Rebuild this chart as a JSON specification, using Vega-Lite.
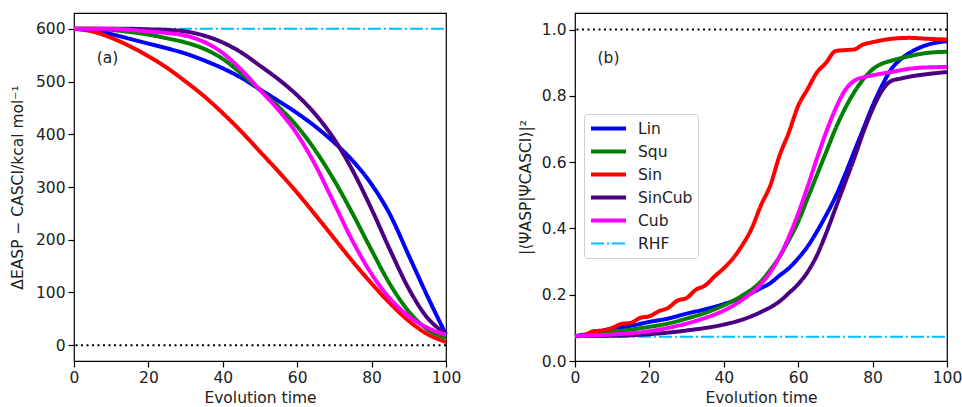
{
  "$schema": "https://vega.github.io/schema/vega-lite/v6.json",
  "padding": {"left": 9, "top": 12, "right": 0, "bottom": 5},
  "background": "white",
  "config": {
    "font": "DejaVu Sans",
    "view": {"stroke": "#000", "strokeWidth": 1.2},
    "axis": {
      "grid": false, "domain": false, "tickColor": "#000", "tickSize": 6, "tickWidth": 1.2,
      "labelFontSize": 15.5, "labelColor": "#222", "labelPadding": 3, "labelFlush": false,
      "titleFontSize": 15.5, "titleFontWeight": "normal", "titleColor": "#222"
    }
  },
  "datasets": {
    "energy": [
      {"s": "RHF", "t": 0, "v": 600}, {"s": "RHF", "t": 100, "v": 600},
      {"s": "Lin", "t": 0, "v": 600}, {"s": "Lin", "t": 5, "v": 597}, {"s": "Lin", "t": 10, "v": 590}, {"s": "Lin", "t": 15, "v": 581}, {"s": "Lin", "t": 20, "v": 572}, {"s": "Lin", "t": 25, "v": 563}, {"s": "Lin", "t": 30, "v": 553}, {"s": "Lin", "t": 35, "v": 540}, {"s": "Lin", "t": 40, "v": 525}, {"s": "Lin", "t": 45, "v": 507}, {"s": "Lin", "t": 50, "v": 485}, {"s": "Lin", "t": 55, "v": 463}, {"s": "Lin", "t": 60, "v": 440}, {"s": "Lin", "t": 65, "v": 414}, {"s": "Lin", "t": 70, "v": 384}, {"s": "Lin", "t": 75, "v": 349}, {"s": "Lin", "t": 80, "v": 305}, {"s": "Lin", "t": 85, "v": 247}, {"s": "Lin", "t": 90, "v": 170}, {"s": "Lin", "t": 95, "v": 93}, {"s": "Lin", "t": 100, "v": 20},
      {"s": "Squ", "t": 0, "v": 600}, {"s": "Squ", "t": 5, "v": 600}, {"s": "Squ", "t": 10, "v": 598}, {"s": "Squ", "t": 15, "v": 594}, {"s": "Squ", "t": 20, "v": 589}, {"s": "Squ", "t": 25, "v": 582}, {"s": "Squ", "t": 30, "v": 574}, {"s": "Squ", "t": 35, "v": 562}, {"s": "Squ", "t": 40, "v": 543}, {"s": "Squ", "t": 45, "v": 515}, {"s": "Squ", "t": 50, "v": 484}, {"s": "Squ", "t": 55, "v": 452}, {"s": "Squ", "t": 60, "v": 415}, {"s": "Squ", "t": 65, "v": 368}, {"s": "Squ", "t": 70, "v": 312}, {"s": "Squ", "t": 75, "v": 248}, {"s": "Squ", "t": 80, "v": 180}, {"s": "Squ", "t": 85, "v": 115}, {"s": "Squ", "t": 90, "v": 64}, {"s": "Squ", "t": 95, "v": 30}, {"s": "Squ", "t": 100, "v": 14},
      {"s": "Sin", "t": 0, "v": 600}, {"s": "Sin", "t": 5, "v": 595}, {"s": "Sin", "t": 10, "v": 583}, {"s": "Sin", "t": 15, "v": 567}, {"s": "Sin", "t": 20, "v": 548}, {"s": "Sin", "t": 25, "v": 526}, {"s": "Sin", "t": 30, "v": 500}, {"s": "Sin", "t": 35, "v": 472}, {"s": "Sin", "t": 40, "v": 440}, {"s": "Sin", "t": 45, "v": 405}, {"s": "Sin", "t": 50, "v": 367}, {"s": "Sin", "t": 55, "v": 329}, {"s": "Sin", "t": 60, "v": 289}, {"s": "Sin", "t": 65, "v": 246}, {"s": "Sin", "t": 70, "v": 202}, {"s": "Sin", "t": 75, "v": 158}, {"s": "Sin", "t": 80, "v": 117}, {"s": "Sin", "t": 85, "v": 79}, {"s": "Sin", "t": 90, "v": 46}, {"s": "Sin", "t": 95, "v": 21}, {"s": "Sin", "t": 100, "v": 6},
      {"s": "SinCub", "t": 0, "v": 600}, {"s": "SinCub", "t": 5, "v": 600}, {"s": "SinCub", "t": 10, "v": 600}, {"s": "SinCub", "t": 15, "v": 600}, {"s": "SinCub", "t": 20, "v": 599}, {"s": "SinCub", "t": 25, "v": 598}, {"s": "SinCub", "t": 30, "v": 595}, {"s": "SinCub", "t": 35, "v": 587}, {"s": "SinCub", "t": 40, "v": 574}, {"s": "SinCub", "t": 45, "v": 555}, {"s": "SinCub", "t": 50, "v": 530}, {"s": "SinCub", "t": 55, "v": 504}, {"s": "SinCub", "t": 60, "v": 474}, {"s": "SinCub", "t": 65, "v": 437}, {"s": "SinCub", "t": 70, "v": 390}, {"s": "SinCub", "t": 75, "v": 330}, {"s": "SinCub", "t": 80, "v": 258}, {"s": "SinCub", "t": 85, "v": 180}, {"s": "SinCub", "t": 90, "v": 107}, {"s": "SinCub", "t": 95, "v": 52}, {"s": "SinCub", "t": 100, "v": 22},
      {"s": "Cub", "t": 0, "v": 600}, {"s": "Cub", "t": 5, "v": 600}, {"s": "Cub", "t": 10, "v": 600}, {"s": "Cub", "t": 15, "v": 598}, {"s": "Cub", "t": 20, "v": 595}, {"s": "Cub", "t": 25, "v": 592}, {"s": "Cub", "t": 30, "v": 587}, {"s": "Cub", "t": 35, "v": 575}, {"s": "Cub", "t": 40, "v": 554}, {"s": "Cub", "t": 45, "v": 522}, {"s": "Cub", "t": 50, "v": 484}, {"s": "Cub", "t": 55, "v": 446}, {"s": "Cub", "t": 60, "v": 400}, {"s": "Cub", "t": 65, "v": 340}, {"s": "Cub", "t": 70, "v": 268}, {"s": "Cub", "t": 75, "v": 196}, {"s": "Cub", "t": 80, "v": 135}, {"s": "Cub", "t": 85, "v": 88}, {"s": "Cub", "t": 90, "v": 55}, {"s": "Cub", "t": 95, "v": 33}, {"s": "Cub", "t": 100, "v": 20}
    ],
    "overlap": [
      {"s": "RHF", "t": 0, "v": 0.073}, {"s": "RHF", "t": 100, "v": 0.073},
      {"s": "Lin", "t": 0, "v": 0.075}, {"s": "Lin", "t": 5, "v": 0.085}, {"s": "Lin", "t": 10, "v": 0.098}, {"s": "Lin", "t": 15, "v": 0.106}, {"s": "Lin", "t": 20, "v": 0.118}, {"s": "Lin", "t": 25, "v": 0.128}, {"s": "Lin", "t": 30, "v": 0.143}, {"s": "Lin", "t": 35, "v": 0.156}, {"s": "Lin", "t": 40, "v": 0.172}, {"s": "Lin", "t": 45, "v": 0.192}, {"s": "Lin", "t": 50, "v": 0.220}, {"s": "Lin", "t": 52.5, "v": 0.235}, {"s": "Lin", "t": 55, "v": 0.258}, {"s": "Lin", "t": 57.5, "v": 0.280}, {"s": "Lin", "t": 60, "v": 0.310}, {"s": "Lin", "t": 62.5, "v": 0.345}, {"s": "Lin", "t": 65, "v": 0.390}, {"s": "Lin", "t": 67.5, "v": 0.440}, {"s": "Lin", "t": 70, "v": 0.495}, {"s": "Lin", "t": 72.5, "v": 0.560}, {"s": "Lin", "t": 75, "v": 0.630}, {"s": "Lin", "t": 77.5, "v": 0.700}, {"s": "Lin", "t": 80, "v": 0.770}, {"s": "Lin", "t": 82.5, "v": 0.830}, {"s": "Lin", "t": 85, "v": 0.880}, {"s": "Lin", "t": 87.5, "v": 0.910}, {"s": "Lin", "t": 90, "v": 0.930}, {"s": "Lin", "t": 95, "v": 0.955}, {"s": "Lin", "t": 100, "v": 0.965},
      {"s": "Squ", "t": 0, "v": 0.075}, {"s": "Squ", "t": 10, "v": 0.088}, {"s": "Squ", "t": 20, "v": 0.103}, {"s": "Squ", "t": 25, "v": 0.113}, {"s": "Squ", "t": 30, "v": 0.128}, {"s": "Squ", "t": 35, "v": 0.145}, {"s": "Squ", "t": 40, "v": 0.168}, {"s": "Squ", "t": 45, "v": 0.198}, {"s": "Squ", "t": 50, "v": 0.240}, {"s": "Squ", "t": 52.5, "v": 0.275}, {"s": "Squ", "t": 55, "v": 0.315}, {"s": "Squ", "t": 57.5, "v": 0.365}, {"s": "Squ", "t": 60, "v": 0.420}, {"s": "Squ", "t": 62.5, "v": 0.490}, {"s": "Squ", "t": 65, "v": 0.560}, {"s": "Squ", "t": 67.5, "v": 0.630}, {"s": "Squ", "t": 70, "v": 0.700}, {"s": "Squ", "t": 72.5, "v": 0.760}, {"s": "Squ", "t": 75, "v": 0.810}, {"s": "Squ", "t": 77.5, "v": 0.850}, {"s": "Squ", "t": 80, "v": 0.880}, {"s": "Squ", "t": 82.5, "v": 0.897}, {"s": "Squ", "t": 85, "v": 0.906}, {"s": "Squ", "t": 90, "v": 0.920}, {"s": "Squ", "t": 95, "v": 0.930}, {"s": "Squ", "t": 100, "v": 0.933},
      {"s": "Sin", "t": 0, "v": 0.075}, {"s": "Sin", "t": 2.5, "v": 0.078}, {"s": "Sin", "t": 5, "v": 0.090}, {"s": "Sin", "t": 7.5, "v": 0.092}, {"s": "Sin", "t": 10, "v": 0.100}, {"s": "Sin", "t": 12.5, "v": 0.112}, {"s": "Sin", "t": 15, "v": 0.115}, {"s": "Sin", "t": 17.5, "v": 0.130}, {"s": "Sin", "t": 20, "v": 0.135}, {"s": "Sin", "t": 22.5, "v": 0.150}, {"s": "Sin", "t": 25, "v": 0.160}, {"s": "Sin", "t": 27.5, "v": 0.182}, {"s": "Sin", "t": 30, "v": 0.190}, {"s": "Sin", "t": 32.5, "v": 0.215}, {"s": "Sin", "t": 35, "v": 0.228}, {"s": "Sin", "t": 37.5, "v": 0.255}, {"s": "Sin", "t": 40, "v": 0.280}, {"s": "Sin", "t": 42.5, "v": 0.310}, {"s": "Sin", "t": 45, "v": 0.350}, {"s": "Sin", "t": 47.5, "v": 0.400}, {"s": "Sin", "t": 50, "v": 0.470}, {"s": "Sin", "t": 52.5, "v": 0.530}, {"s": "Sin", "t": 55, "v": 0.620}, {"s": "Sin", "t": 57.5, "v": 0.690}, {"s": "Sin", "t": 60, "v": 0.770}, {"s": "Sin", "t": 62.5, "v": 0.820}, {"s": "Sin", "t": 65, "v": 0.870}, {"s": "Sin", "t": 67.5, "v": 0.900}, {"s": "Sin", "t": 70, "v": 0.935}, {"s": "Sin", "t": 72.5, "v": 0.938}, {"s": "Sin", "t": 75, "v": 0.940}, {"s": "Sin", "t": 77.5, "v": 0.955}, {"s": "Sin", "t": 80, "v": 0.962}, {"s": "Sin", "t": 85, "v": 0.972}, {"s": "Sin", "t": 90, "v": 0.975}, {"s": "Sin", "t": 95, "v": 0.972}, {"s": "Sin", "t": 100, "v": 0.970},
      {"s": "SinCub", "t": 0, "v": 0.075}, {"s": "SinCub", "t": 10, "v": 0.076}, {"s": "SinCub", "t": 20, "v": 0.081}, {"s": "SinCub", "t": 30, "v": 0.092}, {"s": "SinCub", "t": 40, "v": 0.110}, {"s": "SinCub", "t": 45, "v": 0.125}, {"s": "SinCub", "t": 50, "v": 0.148}, {"s": "SinCub", "t": 55, "v": 0.180}, {"s": "SinCub", "t": 57.5, "v": 0.205}, {"s": "SinCub", "t": 60, "v": 0.232}, {"s": "SinCub", "t": 62.5, "v": 0.268}, {"s": "SinCub", "t": 65, "v": 0.318}, {"s": "SinCub", "t": 67.5, "v": 0.385}, {"s": "SinCub", "t": 70, "v": 0.460}, {"s": "SinCub", "t": 72.5, "v": 0.535}, {"s": "SinCub", "t": 75, "v": 0.610}, {"s": "SinCub", "t": 77.5, "v": 0.690}, {"s": "SinCub", "t": 80, "v": 0.760}, {"s": "SinCub", "t": 82.5, "v": 0.815}, {"s": "SinCub", "t": 85, "v": 0.845}, {"s": "SinCub", "t": 87.5, "v": 0.852}, {"s": "SinCub", "t": 90, "v": 0.858}, {"s": "SinCub", "t": 95, "v": 0.866}, {"s": "SinCub", "t": 100, "v": 0.872},
      {"s": "Cub", "t": 0, "v": 0.075}, {"s": "Cub", "t": 10, "v": 0.080}, {"s": "Cub", "t": 20, "v": 0.090}, {"s": "Cub", "t": 25, "v": 0.100}, {"s": "Cub", "t": 30, "v": 0.113}, {"s": "Cub", "t": 35, "v": 0.130}, {"s": "Cub", "t": 40, "v": 0.152}, {"s": "Cub", "t": 45, "v": 0.185}, {"s": "Cub", "t": 50, "v": 0.232}, {"s": "Cub", "t": 52.5, "v": 0.268}, {"s": "Cub", "t": 55, "v": 0.315}, {"s": "Cub", "t": 57.5, "v": 0.375}, {"s": "Cub", "t": 60, "v": 0.445}, {"s": "Cub", "t": 62.5, "v": 0.525}, {"s": "Cub", "t": 65, "v": 0.610}, {"s": "Cub", "t": 67.5, "v": 0.690}, {"s": "Cub", "t": 70, "v": 0.760}, {"s": "Cub", "t": 72.5, "v": 0.815}, {"s": "Cub", "t": 75, "v": 0.845}, {"s": "Cub", "t": 77.5, "v": 0.856}, {"s": "Cub", "t": 80, "v": 0.862}, {"s": "Cub", "t": 85, "v": 0.872}, {"s": "Cub", "t": 90, "v": 0.882}, {"s": "Cub", "t": 95, "v": 0.886}, {"s": "Cub", "t": 100, "v": 0.887}
    ]
  },
  "spacing": 55,
  "resolve": {
    "scale": {"color": "independent", "strokeDash": "independent", "strokeWidth": "independent"},
    "legend": {"color": "independent", "strokeDash": "independent", "strokeWidth": "independent"}
  },
  "hconcat": [
    {
      "width": 372, "height": 348,
      "layer": [
        {
          "data": {"name": "energy"},
          "mark": {"type": "line", "interpolate": "monotone", "strokeCap": "butt"},
          "encoding": {
            "x": {"field": "t", "type": "quantitative", "scale": {"domain": [0, 100], "nice": false}, "axis": {"title": "Evolution time", "values": [0, 20, 40, 60, 80, 100], "titlePadding": 5}},
            "y": {"field": "v", "type": "quantitative", "scale": {"domain": [-30, 630], "nice": false, "zero": false}, "axis": {"title": "ΔEASP − CASCI/kcal mol⁻¹", "values": [0, 100, 200, 300, 400, 500, 600], "titlePadding": 10}},
            "color": {"field": "s", "type": "nominal", "scale": {"domain": ["Lin", "Squ", "Sin", "SinCub", "Cub", "RHF"], "range": ["#0000ff", "#008000", "#ff0000", "#4b0082", "#ff00ff", "#00bfff"]}, "legend": null},
            "strokeDash": {"field": "s", "type": "nominal", "scale": {"domain": ["Lin", "Squ", "Sin", "SinCub", "Cub", "RHF"], "range": [[1, 0], [1, 0], [1, 0], [1, 0], [1, 0], [13, 3, 2, 3]]}, "legend": null},
            "strokeWidth": {"field": "s", "type": "ordinal", "scale": {"type": "ordinal", "domain": ["Lin", "Squ", "Sin", "SinCub", "Cub", "RHF"], "range": [4, 4, 4, 4, 4, 2]}, "legend": null}
          }
        },
        {
          "data": {"values": [{}]},
          "mark": {"type": "rule", "color": "#000", "strokeWidth": 2, "strokeDash": [2, 3.5]},
          "encoding": {"y": {"datum": 0}}
        },
        {
          "data": {"values": [{}]},
          "mark": {"type": "text", "fontSize": 15.5, "color": "#222", "align": "center", "baseline": "middle"},
          "encoding": {"x": {"datum": 9}, "y": {"datum": 545}, "text": {"value": "(a)"}}
        }
      ]
    },
    {
      "width": 372, "height": 348,
      "layer": [
        {
          "data": {"name": "overlap"},
          "mark": {"type": "line", "interpolate": "monotone", "strokeCap": "butt"},
          "encoding": {
            "x": {"field": "t", "type": "quantitative", "scale": {"domain": [0, 100], "nice": false}, "axis": {"title": "Evolution time", "values": [0, 20, 40, 60, 80, 100], "titlePadding": 5}},
            "y": {"field": "v", "type": "quantitative", "scale": {"domain": [0, 1.05], "nice": false}, "axis": {"title": "|⟨ΨASP|ΨCASCI⟩|²", "values": [0, 0.2, 0.4, 0.6, 0.8, 1.0], "format": ".1f", "titlePadding": 8}},
            "color": {"field": "s", "type": "nominal", "scale": {"domain": ["Lin", "Squ", "Sin", "SinCub", "Cub", "RHF"], "range": ["#0000ff", "#008000", "#ff0000", "#4b0082", "#ff00ff", "#00bfff"]},
              "legend": {"orient": "none", "legendX": 9, "legendY": 101, "title": null, "symbolType": "stroke", "symbolSize": 1225, "labelFontSize": 15.5, "labelColor": "#222", "strokeColor": "#d0d0d0", "fillColor": "white", "padding": 5, "cornerRadius": 3, "labelOffset": 10, "clipHeight": 19, "rowPadding": 4}},
            "strokeDash": {"field": "s", "type": "nominal", "scale": {"domain": ["Lin", "Squ", "Sin", "SinCub", "Cub", "RHF"], "range": [[1, 0], [1, 0], [1, 0], [1, 0], [1, 0], [13, 3, 2, 3]]},
              "legend": {"orient": "none", "legendX": 9, "legendY": 101, "title": null, "symbolType": "stroke", "symbolSize": 1225, "labelFontSize": 15.5, "labelColor": "#222", "strokeColor": "#d0d0d0", "fillColor": "white", "padding": 5, "cornerRadius": 3, "labelOffset": 10, "clipHeight": 19, "rowPadding": 4}},
            "strokeWidth": {"field": "s", "type": "ordinal", "scale": {"type": "ordinal", "domain": ["Lin", "Squ", "Sin", "SinCub", "Cub", "RHF"], "range": [4, 4, 4, 4, 4, 2]},
              "legend": {"orient": "none", "legendX": 9, "legendY": 101, "title": null, "symbolType": "stroke", "symbolSize": 1225, "labelFontSize": 15.5, "labelColor": "#222", "strokeColor": "#d0d0d0", "fillColor": "white", "padding": 5, "cornerRadius": 3, "labelOffset": 10, "clipHeight": 19, "rowPadding": 4}}
          }
        },
        {
          "data": {"values": [{}]},
          "mark": {"type": "rule", "color": "#000", "strokeWidth": 2, "strokeDash": [2, 3.5]},
          "encoding": {"y": {"datum": 1}}
        },
        {
          "data": {"values": [{}]},
          "mark": {"type": "text", "fontSize": 15.5, "color": "#222", "align": "center", "baseline": "middle"},
          "encoding": {"x": {"datum": 9}, "y": {"datum": 0.914}, "text": {"value": "(b)"}}
        }
      ]
    }
  ]
}
